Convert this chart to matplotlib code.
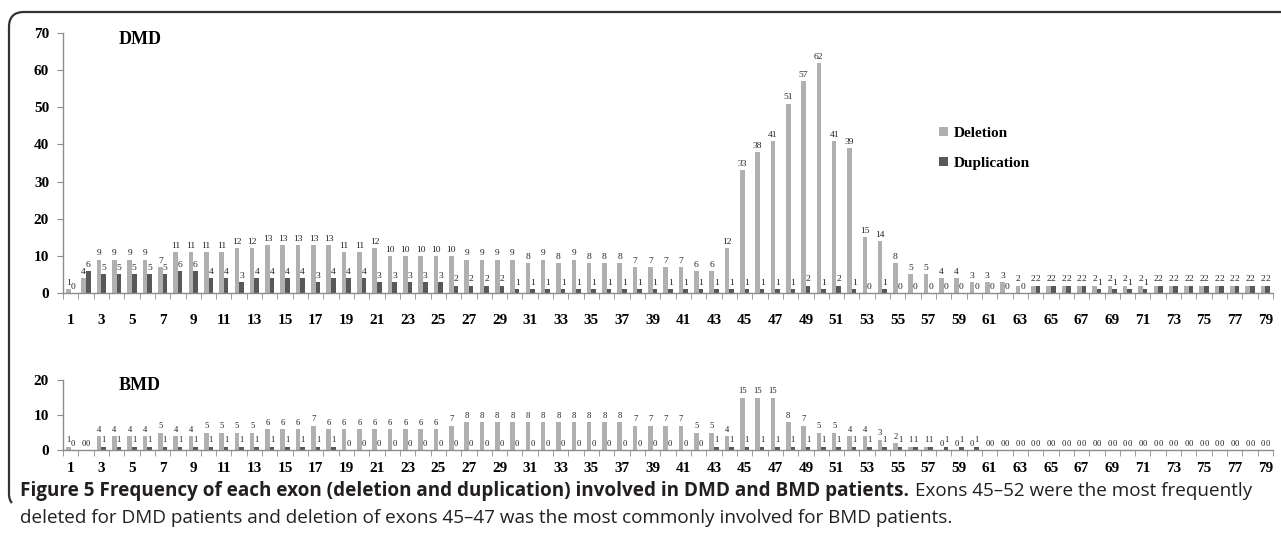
import matplotlib
matplotlib.use("Agg")
import matplotlib.pyplot as plt
import numpy as np
from matplotlib.path import Path
from matplotlib.patches import PathPatch, Patch

exons = list(range(1, 80))

dmd_deletion = [1, 4, 9, 9, 9, 9, 7, 11, 11, 11, 11, 12, 12, 13, 13, 13, 13, 13, 11, 11,
                12, 10, 10, 10, 10, 10, 9, 9, 9, 9, 8, 9, 8, 9, 8, 8, 8, 7, 7, 7,
                7, 6, 6, 12, 33, 38, 41, 51, 57, 62, 41, 39, 15, 14, 8, 5, 5, 4, 4, 3,
                3, 3, 2, 2, 2, 2, 2, 2, 2, 2, 2, 2, 2, 2, 2, 2, 2, 2, 2]
dmd_duplication = [0, 6, 5, 5, 5, 5, 5, 6, 6, 4, 4, 3, 4, 4, 4, 4, 3, 4, 4, 4,
                   3, 3, 3, 3, 3, 2, 2, 2, 2, 1, 1, 1, 1, 1, 1, 1, 1, 1, 1, 1,
                   1, 1, 1, 1, 1, 1, 1, 1, 2, 1, 2, 1, 0, 1, 0, 0, 0, 0, 0, 0,
                   0, 0, 0, 2, 2, 2, 2, 1, 1, 1, 1, 2, 2, 2, 2, 2, 2, 2, 2]

bmd_deletion = [1, 0, 4, 4, 4, 4, 5, 4, 4, 5, 5, 5, 5, 6, 6, 6, 7, 6, 6, 6,
                6, 6, 6, 6, 6, 7, 8, 8, 8, 8, 8, 8, 8, 8, 8, 8, 8, 7, 7, 7,
                7, 5, 5, 4, 15, 15, 15, 8, 7, 5, 5, 4, 4, 3, 2, 1, 1, 0, 0, 0,
                0, 0, 0, 0, 0, 0, 0, 0, 0, 0, 0, 0, 0, 0, 0, 0, 0, 0, 0]
bmd_duplication = [0, 0, 1, 1, 1, 1, 1, 1, 1, 1, 1, 1, 1, 1, 1, 1, 1, 1, 0, 0,
                   0, 0, 0, 0, 0, 0, 0, 0, 0, 0, 0, 0, 0, 0, 0, 0, 0, 0, 0, 0,
                   0, 0, 1, 1, 1, 1, 1, 1, 1, 1, 1, 1, 1, 1, 1, 1, 1, 1, 1, 1,
                   0, 0, 0, 0, 0, 0, 0, 0, 0, 0, 0, 0, 0, 0, 0, 0, 0, 0, 0]

dmd_yticks = [0, 10, 20, 30, 40, 50, 60, 70]
bmd_yticks = [0, 10, 20]
series_names = ["Deletion", "Duplication"]

caption_bold = "Figure 5 Frequency of each exon (deletion and duplication) involved in DMD and BMD patients."
caption_rest1 = "Exons 45\u201352 were the most frequently"
caption_line2 = "deleted for DMD patients and deletion of exons 45\u201347 was the most commonly involved for BMD patients."

W, H = 1281, 547
fig = plt.figure(figsize=(W / 100, H / 100), dpi=100)
SERIF = ["Liberation Serif", "DejaVu Serif"]
DEL_C = "#b0b0b0"
DUP_C = "#585858"
AX_C = "#8c8c8c"


def fx(px):
    return px / W


def fy(py):
    return 1 - py / H


def panel(rect_px, dele, dup, ymax, yticks, title, title_y, lab_fs, xpad):
    x0, y_top, x1, y_bot = rect_px
    ax = fig.add_axes([fx(x0), fy(y_bot), fx(x1 - x0), (y_bot - y_top) / H])
    x = np.array(exons, dtype=float)
    bw = 0.3
    ax.bar(x - 0.15, dele, width=bw, color=DEL_C, zorder=2)
    ax.bar(x + 0.15, dup, width=bw, color=DUP_C, zorder=2)
    for xi, d, u in zip(x, dele, dup):
        ax.annotate(str(d), (xi - 0.15, d), xytext=(0, 1.5), textcoords="offset points",
                    ha="center", va="bottom", fontsize=lab_fs, family=SERIF, color="#222222")
        ax.annotate(str(u), (xi + 0.15, u), xytext=(0, 1.5), textcoords="offset points",
                    ha="center", va="bottom", fontsize=lab_fs, family=SERIF, color="#222222")
    ax.set_xlim(0.5, 79.5)
    ax.set_ylim(0, ymax)
    for s in ["top", "right"]:
        ax.spines[s].set_visible(False)
    for s in ["left", "bottom"]:
        ax.spines[s].set_color(AX_C)
        ax.spines[s].set_linewidth(1.0)
    ax.set_yticks(yticks)
    ax.set_yticklabels([str(t) for t in yticks], fontsize=11, fontweight="bold", family=SERIF)
    ax.tick_params(axis="y", length=4, color=AX_C, pad=6)
    odd = [e for e in exons if e % 2 == 1]
    ax.set_xticks(odd)
    ax.set_xticklabels([str(e) for e in odd], fontsize=11, fontweight="bold", family=SERIF)
    ax.tick_params(axis="x", which="major", length=0, pad=xpad)
    ax.set_xticks(np.arange(0.5, 80.5, 1.0), minor=True)
    ax.tick_params(axis="x", which="minor", length=4, color=AX_C)
    fig.text(fx(119), fy(title_y), title, fontsize=13, fontweight="bold", family=SERIF,
             ha="left", va="center")
    return ax


ax1 = panel((63, 33, 1273, 293), dmd_deletion, dmd_duplication, 70, dmd_yticks, "DMD", 40, 6.8, 15)
ax2 = panel((63, 380, 1273, 450), bmd_deletion, bmd_duplication, 20, bmd_yticks, "BMD", 386, 6.2, 9)

handles = [Patch(facecolor=DEL_C, label=series_names[0]), Patch(facecolor=DUP_C, label=series_names[1])]
fig.legend(handles=handles, loc="upper left", bbox_to_anchor=(fx(925), fy(113)), frameon=False,
           prop={"family": SERIF, "weight": "bold", "size": 11}, handlelength=0.6, handleheight=0.6,
           handletextpad=0.4, labelspacing=1.1)

# frame
verts = [(W + 5, 12), (24, 12), (9, 12), (9, 27), (9, 494), (9, 500), (12, 503)]
codes = [Path.MOVETO, Path.LINETO, Path.CURVE3, Path.CURVE3, Path.LINETO, Path.CURVE3, Path.CURVE3]
verts_f = [(fx(a), fy(b)) for a, b in verts]
fig.add_artist(PathPatch(Path(verts_f, codes), transform=fig.transFigure, fill=False,
                         edgecolor="#333333", linewidth=1.6))

# caption: one font size, fitted so that line 1 ends near the right edge as in the reference
CAP = ["Open Sans", "DejaVu Sans"]
CAP_C = "#231f20"
renderer = fig.canvas.get_renderer()
base = 10.0
tb = fig.text(fx(20), fy(491), caption_bold, fontsize=base, fontweight="bold", family=CAP,
              color=CAP_C, ha="left", va="center")
tr = fig.text(0, fy(491), caption_rest1, fontsize=base, family=CAP, color=CAP_C, ha="left", va="center")
t2 = fig.text(fx(20), fy(518), caption_line2, fontsize=base, family=CAP, color=CAP_C, ha="left", va="center")
wb = tb.get_window_extent(renderer=renderer).width
wr = tr.get_window_extent(renderer=renderer).width
k = (1254 - 20 - 6) / (wb + wr)
for t in (tb, tr, t2):
    t.set_fontsize(base * k)
bb = tb.get_window_extent(renderer=renderer)
tr.set_x(fx(bb.x1 + 6))

fig.savefig("out.png", dpi=100)
